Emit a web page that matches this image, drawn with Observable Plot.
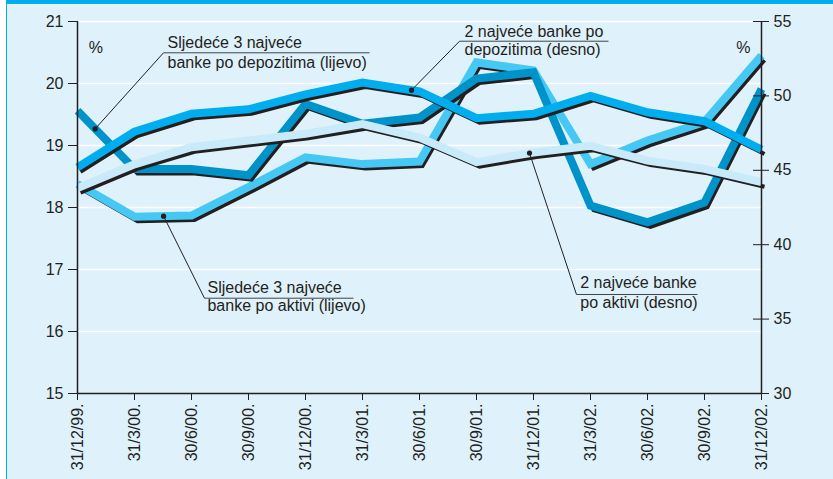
<!DOCTYPE html>
<html><head><meta charset="utf-8">
<script src="https://cdn.jsdelivr.net/npm/d3@7"></script>
<script src="https://cdn.jsdelivr.net/npm/@observablehq/plot@0.6"></script>
<style>
body{margin:0;background:#fff;}
#wrap{position:relative;width:833px;height:479px;overflow:hidden;}
#wrap svg{position:absolute;left:0;top:0;}
.deco{position:absolute;}
</style></head><body>
<div id="wrap"></div>
<script>
// Categories (quarter ends)
const dates = ["31/12/99.", "31/3/00.", "30/6/00.", "30/9/00.", "31/12/00.", "31/3/01.", "30/6/01.", "30/9/01.", "31/12/01.", "31/3/02.", "30/6/02.", "30/9/02.", "31/12/02."];

// Left scale (%), 15–21
const next3Deposits = [19.56, 18.62, 18.62, 18.52, 19.67, 19.35, 19.45, 20.08, 20.18, 18.03, 17.76, 18.08, 19.91];
const next3Assets   = [18.38, 17.85, 17.87, 18.33, 18.81, 18.70, 18.74, 20.34, 20.21, 18.70, 19.08, 19.38, 20.45];
// Right scale (%), 30–55
const top2Deposits  = [45.2, 47.6, 48.8, 49.1, 50.1, 50.9, 50.3, 48.5, 48.8, 50.0, 48.9, 48.3, 46.4];
const top2Assets    = [43.8, 45.4, 46.55, 47.0, 47.45, 48.1, 47.2, 45.55, 46.2, 46.65, 45.65, 45.1, 44.2];

// Tick labels
const leftTicks = [15, 16, 17, 18, 19, 20, 21];
const rightTicks = [30, 35, 40, 45, 50, 55];

// right-axis values mapped onto the left scale
const toLeft = v => 15 + (v - 30) * 6 / 25;

const series = [
  {key: "next3Assets",   values: next3Assets,            color: "#45c8f4"},
  {key: "next3Deposits", values: next3Deposits,          color: "#0093c9"},
  {key: "top2Deposits",  values: top2Deposits.map(toLeft), color: "#00aeef"},
  {key: "top2Assets",    values: top2Assets.map(toLeft),   color: "#c8eaf9"}
];
const byKey = Object.fromEntries(series.map(s => [s.key, s]));
const valAt = (arr, t) => { const i = Math.floor(t), f = t - i; return arr[i] + (arr[Math.min(i + 1, arr.length - 1)] - arr[i]) * f; };

// Annotations (label positions in data units: x = category index, y = left-scale value)
const annotations = [
  {lines: ["Sljedeće 3 najveće", "banke po depozitima (lijevo)"], x: 1.58, y1: 20.565, y2: 20.258, sx1: 1.509, sx2: 5.123, sy: 20.495, key: "next3Deposits", at: 0.31},
  {lines: ["2 najveće banke po", "depozitima (desno)"], x: 6.79, y1: 20.758, y2: 20.452, sx1: 6.702, sx2: 9.316, sy: 20.682, key: "top2Deposits", at: 5.86},
  {lines: ["Sljedeće 3 najveće", "banke po aktivi (lijevo)"], x: 2.28, y1: 16.629, y2: 16.323, sx1: 2.228, sx2: 4.842, sy: 16.537, key: "next3Assets", at: 1.51},
  {lines: ["2 najveće banke", "po aktivi (desno)"], x: 8.82, y1: 16.694, y2: 16.371, sx1: 8.754, sx2: 10.877, sy: 16.597, key: "top2Assets", at: 7.93}
];
annotations.forEach(a => { a.dx = a.at; a.dy = valAt(byKey[a.key].values, a.at); });

const ink = "#231f20";
const lineMarks = [];
for (const s of series) {
  const pts = s.values.map((v, i) => ({i, v}));
  lineMarks.push(Plot.line(pts, {x: "i", y: "v", stroke: ink, strokeWidth: 4, dx: 3, dy: 4.5, strokeLinejoin: "miter", strokeLinecap: "butt", strokeMiterlimit: 10}));
  lineMarks.push(Plot.line(pts, {x: "i", y: "v", stroke: s.color, strokeWidth: 8, strokeLinejoin: "miter", strokeLinecap: "butt", strokeMiterlimit: 10}));
}

const textLines = annotations.flatMap(a => [{t: a.lines[0], x: a.x, y: a.y1}, {t: a.lines[1], x: a.x, y: a.y2}]);

const chart = Plot.plot({
  width: 833, height: 479,
  marginLeft: 77, marginRight: 72, marginTop: 21, marginBottom: 86,
  style: {background: "#dff1fb", fontFamily: "'Liberation Sans', Arial, Helvetica, sans-serif", fontSize: "16px", color: ink},
  x: {domain: [0, 12]},
  y: {domain: [15, 21]},
  marks: [
    Plot.ruleY([16, 17, 18, 19, 20, 21], {x1: 0, x2: 12, stroke: "#ffffff", strokeWidth: 1.5}),
    ...lineMarks,
    Plot.ruleX([0], {y1: 15, y2: 21, stroke: ink, strokeWidth: 1.5}),
    Plot.ruleX([12], {y1: 15, y2: 21, stroke: ink, strokeWidth: 1.5}),
    Plot.ruleY([15], {x1: 0, x2: 12, stroke: ink, strokeWidth: 1.5}),
    Plot.axisY(leftTicks, {anchor: "left", tickSize: 9, tickPadding: 5, label: null, tickFormat: d => d, fontSize: 16}),
    Plot.axisY(rightTicks.map(toLeft), {anchor: "right", tickSize: 7, tickPadding: 5, label: null, tickFormat: d => Math.round(30 + (d - 15) * 25 / 6), fontSize: 16}),
    Plot.ruleY(rightTicks.map(toLeft), {x1: 12, x2: 12, insetLeft: -8, stroke: ink, strokeWidth: 1}),
    Plot.axisX(d3.range(dates.length), {anchor: "bottom", tickSize: 7, tickPadding: 3, tickRotate: -90, label: null, tickFormat: i => dates[i], fontSize: 16}),
    // annotation pointers
    Plot.link(annotations, {x1: "sx1", y1: "sy", x2: "dx", y2: "dy", stroke: ink, strokeWidth: 1}),
    Plot.link(annotations, {x1: "sx1", y1: "sy", x2: "sx2", y2: "sy", stroke: "#444", strokeWidth: 1}),
    Plot.dot(annotations, {x: "dx", y: "dy", r: 2.6, fill: ink, stroke: null}),
    Plot.text(textLines, {x: "x", y: "y", text: "t", textAnchor: "start", lineAnchor: "bottom", fill: ink, fontSize: 16}),
    Plot.text(["%"], {x: 0.32, y: 20.5, text: d => d, lineAnchor: "bottom", fill: ink, fontSize: 16}),
    Plot.text(["%"], {x: 11.68, y: 20.5, text: d => d, lineAnchor: "bottom", fill: ink, fontSize: 16})
  ]
});

const wrap = document.getElementById("wrap");
wrap.appendChild(chart);
const deco = (l, t, w, h, c) => { const d = document.createElement("div"); d.className = "deco"; Object.assign(d.style, {left: l + "px", top: t + "px", width: w + "px", height: h + "px", background: c}); wrap.appendChild(d); };
deco(0, 0, 833, 4, "#00aeef");
deco(0, 4, 833, 1, "#f2f9fd");
deco(0, 0, 6, 479, "#ffffff");
deco(6, 4, 1, 475, "#00aeef");
</script>
</body></html>
